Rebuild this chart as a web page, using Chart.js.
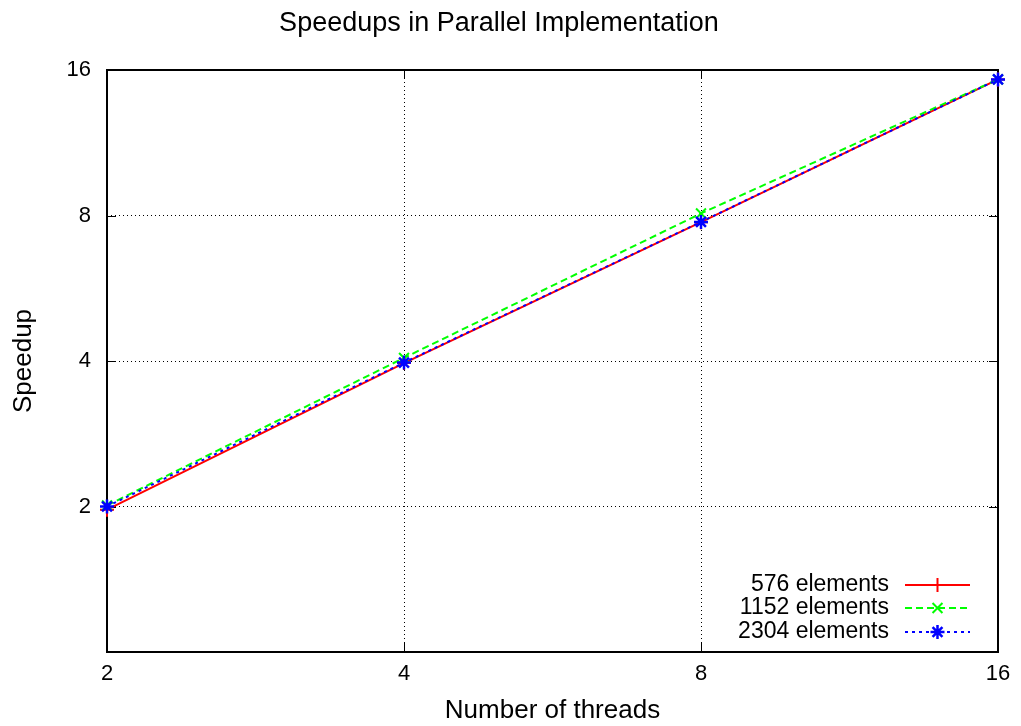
<!DOCTYPE html>
<html lang="en">
  <head>
    <meta charset="UTF-8">
    <title>Speedups in Parallel Implementation</title>
    <script src="https://cdn.jsdelivr.net/npm/chart.js"></script>
    <style>
      body {
        margin: 0;
        padding: 0;
        background-color: #ffffff;
      }
      canvas {
        display: block;
      }
    </style>
  </head>
  <body>
  <canvas id="speedupChart" width="1021" height="726"></canvas>

  <script>
  // measured speedups per thread count
  var threads = [2, 4, 8, 16];
  var speedup576 = [1.97, 3.96, 7.75, 15.3];
  var speedup1152 = [2.01, 4.06, 8.08, 15.3];
  var speedup2304 = [2.0, 3.97, 7.76, 15.3];

  var xTicks = [2, 4, 8, 16];
  var yTicks = [2, 4, 8, 16];

  var fontFamily = "'Liberation Sans', Arial, Helvetica, sans-serif";

  function toPoints(values) {
    return threads.map(function(t, i) { return {x: t, y: values[i]}; });
  }

  // gnuplot style frame: solid box with inward ticks on every side
  var framePlugin = {
    id: 'frame',
    beforeDatasetsDraw: function(chart) {
      var ctx = chart.ctx;
      var area = chart.chartArea;
      var xs = chart.scales.x;
      var ys = chart.scales.y;
      var len = 9;
      ctx.save();
      ctx.strokeStyle = '#000000';
      ctx.lineWidth = 2;
      ctx.setLineDash([]);
      ctx.strokeRect(area.left, area.top, area.right - area.left, area.bottom - area.top);
      ctx.lineWidth = 1;
      ctx.beginPath();
      xTicks.forEach(function(v) {
        var px = Math.round(xs.getPixelForValue(v)) + 0.5;
        ctx.moveTo(px, area.bottom);
        ctx.lineTo(px, area.bottom - len);
        ctx.moveTo(px, area.top);
        ctx.lineTo(px, area.top + len);
      });
      yTicks.forEach(function(v) {
        var py = Math.round(ys.getPixelForValue(v)) + 0.5;
        ctx.moveTo(area.left, py);
        ctx.lineTo(area.left + len, py);
        ctx.moveTo(area.right, py);
        ctx.lineTo(area.right - len, py);
      });
      ctx.stroke();
      ctx.restore();
    }
  };

  // key in the lower right corner, text to the left of the sample line
  var keyPlugin = {
    id: 'key',
    afterDatasetsDraw: function(chart) {
      var ctx = chart.ctx;
      var textRight = 889;
      var lineStart = 905;
      var lineEnd = 970;
      var rows = [585, 608, 632];
      ctx.save();
      chart.data.datasets.forEach(function(ds, i) {
        var y = rows[i];
        ctx.font = '23px ' + fontFamily;
        ctx.fillStyle = '#000000';
        ctx.textAlign = 'right';
        ctx.textBaseline = 'middle';
        ctx.fillText(ds.label, textRight, y);

        ctx.strokeStyle = ds.borderColor;
        ctx.lineWidth = ds.borderWidth;
        ctx.setLineDash(ds.borderDash || []);
        ctx.beginPath();
        ctx.moveTo(lineStart, y);
        ctx.lineTo(lineEnd, y);
        ctx.stroke();

        ctx.setLineDash([]);
        ctx.lineWidth = ds.pointBorderWidth;
        ctx.fillStyle = ds.borderColor;
        Chart.helpers.drawPoint(ctx, {
          pointStyle: ds.pointStyle,
          radius: ds.pointRadius,
          rotation: 0,
          borderWidth: ds.pointBorderWidth
        }, (lineStart + lineEnd) / 2, y);
      });
      ctx.restore();
    }
  };

  var ctx = document.getElementById('speedupChart').getContext('2d');

  var speedupChart = new Chart(ctx, {
    type: 'line',
    data: {
      datasets: [{
        label: '576 elements',
        data: toPoints(speedup576),
        borderColor: '#ff0000',
        backgroundColor: '#ff0000',
        borderWidth: 2,
        pointStyle: 'cross',
        pointRadius: 7,
        pointBorderWidth: 2,
        clip: false,
        order: 3
      }, {
        label: '1152 elements',
        data: toPoints(speedup1152),
        borderColor: '#00ff00',
        backgroundColor: '#00ff00',
        borderWidth: 2,
        borderDash: [7, 4],
        pointStyle: 'crossRot',
        pointRadius: 7,
        pointBorderWidth: 2,
        clip: false,
        order: 2
      }, {
        label: '2304 elements',
        data: toPoints(speedup2304),
        borderColor: '#0000ff',
        backgroundColor: '#0000ff',
        borderWidth: 2,
        borderDash: [3, 4],
        pointStyle: 'star',
        pointRadius: 7,
        pointBorderWidth: 2.5,
        clip: false,
        order: 1
      }]
    },
    options: {
      responsive: false,
      animation: false,
      devicePixelRatio: 1,
      layout: {
        padding: {left: 0, right: 23, top: 0, bottom: 0}
      },
      plugins: {
        legend: {display: false},
        tooltip: {enabled: false},
        title: {
          display: true,
          text: 'Speedups in Parallel Implementation',
          color: '#000000',
          font: {family: fontFamily, size: 27, weight: 'normal', lineHeight: 1.2},
          padding: {top: 7, bottom: 30.6}
        }
      },
      scales: {
        x: {
          type: 'logarithmic',
          min: 2,
          max: 16,
          afterBuildTicks: function(scale) {
            scale.ticks = xTicks.map(function(v) { return {value: v}; });
          },
          afterFit: function(scale) {
            scale.height = 74;
            scale.paddingLeft = 0;
            scale.paddingRight = 0;
          },
          ticks: {
            color: '#000000',
            font: {family: fontFamily, size: 22},
            padding: 9,
            maxRotation: 0,
            callback: function(v) { return String(v); }
          },
          grid: {
            color: '#000000',
            lineWidth: 1,
            drawTicks: false
          },
          border: {display: false, dash: [1, 3]},
          title: {
            display: true,
            text: 'Number of threads',
            color: '#000000',
            font: {family: fontFamily, size: 26, lineHeight: 1.2},
            padding: {top: 0, bottom: 0}
          }
        },
        y: {
          type: 'logarithmic',
          min: 1,
          max: 16,
          afterBuildTicks: function(scale) {
            scale.ticks = yTicks.map(function(v) { return {value: v}; });
          },
          afterFit: function(scale) {
            scale.width = 107;
            scale.paddingTop = 0;
            scale.paddingBottom = 0;
          },
          ticks: {
            color: '#000000',
            font: {family: fontFamily, size: 22},
            padding: 16,
            callback: function(v) { return String(v); }
          },
          grid: {
            color: '#000000',
            lineWidth: 1,
            drawTicks: false
          },
          border: {display: false, dash: [1, 3]},
          title: {
            display: true,
            text: 'Speedup',
            color: '#000000',
            font: {family: fontFamily, size: 26, lineHeight: 1.2},
            padding: {top: 8, bottom: 0}
          }
        }
      }
    },
    plugins: [framePlugin, keyPlugin]
  });
  </script>
  </body>
</html>
